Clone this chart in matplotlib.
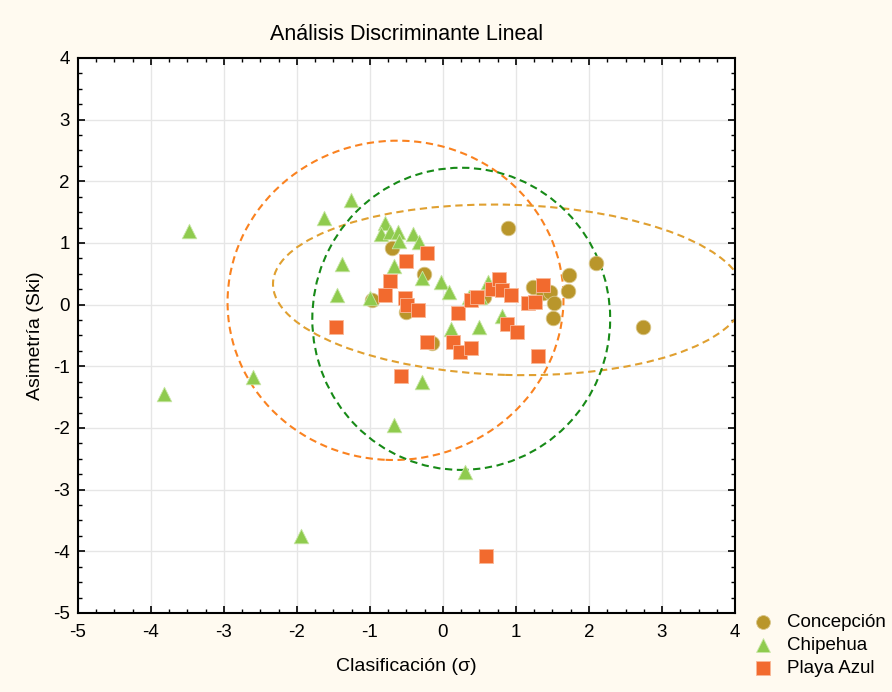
import matplotlib.pyplot as plt
from matplotlib.patches import Ellipse
from matplotlib.ticker import MultipleLocator

plt.rcParams['font.family'] = ['Liberation Sans', 'DejaVu Sans']
plt.rcParams['axes.unicode_minus'] = False

# Concepción
conc_x = [0.89, 2.10, 1.73, 1.71, 1.23, 1.37, 1.46, 1.52, 1.51, 2.74,
          -0.70, -0.26, -0.51, -0.15, -0.97, 0.56]
conc_y = [1.25, 0.67, 0.48, 0.22, 0.29, 0.19, 0.21, 0.03, -0.21, -0.37,
          0.92, 0.50, -0.12, -0.63, 0.08, 0.13]

# Chipehua
chip_x = [-3.48, -3.82, -2.60, -1.94, -1.63, -1.26, -1.38, -1.45, -1.00, -0.79,
          -0.85, -0.73, -0.62, -0.60, -0.41, -0.33, -0.67, -0.29, -0.03, 0.08,
          0.11, 0.50, -0.29, 0.62, 0.81, 0.51, 0.35, -0.67, 0.30]
chip_y = [1.19, -1.45, -1.18, -3.75, 1.41, 1.69, 0.66, 0.16, 0.10, 1.33,
          1.14, 1.18, 1.18, 1.04, 1.15, 1.02, 0.63, 0.44, 0.37, 0.21,
          -0.40, -0.36, -1.26, 0.37, -0.18, 0.13, 0.12, -1.95, -2.72]

# Playa Azul
playa_x = [-0.22, -0.51, -0.73, -0.79, -0.52, -0.49, -0.34, -1.47, 0.20, -0.22,
           0.14, 0.23, 0.38, -0.58, 0.39, 0.46, 0.67, 0.77, 0.81, 0.93,
           1.37, 1.16, 1.26, 0.88, 1.01, 1.30, 0.59]
playa_y = [0.84, 0.70, 0.39, 0.16, 0.10, 0.00, -0.08, -0.37, -0.13, -0.60,
           -0.60, -0.77, -0.70, -1.15, 0.08, 0.13, 0.26, 0.41, 0.23, 0.15,
           0.32, 0.02, 0.04, -0.32, -0.44, -0.84, -4.08]

# ellipses: center x, center y, semi-axis x, semi-axis y, angle
ell_cx = [0.90, -0.65, 0.25]
ell_cy = [0.24, 0.07, -0.23]
ell_ax = [3.23, 2.30, 2.04]
ell_ay = [1.38, 2.59, 2.45]
ell_ang = [-2, -3, 0]
ell_col = ['#E0A030', '#FA8220', '#178A17']

fig = plt.figure(figsize=(8.92, 6.92), dpi=100, facecolor='#FFFAF0')
ax = fig.add_axes([0.0874, 0.1142, 0.7366, 0.802])
ax.set_facecolor('white')

for cx, cy, a, b, ang, c in zip(ell_cx, ell_cy, ell_ax, ell_ay, ell_ang, ell_col):
    e = Ellipse((cx, cy), 2 * a, 2 * b, angle=ang, fill=False, edgecolor=c,
                linewidth=1.5, linestyle=(0, (3.5, 2.2)), zorder=2)
    ax.add_patch(e)

ax.scatter(conc_x, conc_y, s=110, marker='o', color='#B9962B',
           edgecolors='#D9C68A', linewidths=0.6, zorder=3, label='Concepción')
ax.scatter(chip_x, chip_y, s=110, marker='^', color='#8FCB4E',
           edgecolors='#C8E6A6', linewidths=0.6, zorder=4, label='Chipehua')
ax.scatter(playa_x, playa_y, s=100, marker='s', color='#F26A2E',
           edgecolors='#F9B898', linewidths=0.6, zorder=5, label='Playa Azul')

ax.set_xlim(-5, 4)
ax.set_ylim(-5, 4)
ax.xaxis.set_major_locator(MultipleLocator(1))
ax.yaxis.set_major_locator(MultipleLocator(1))
ax.xaxis.set_minor_locator(MultipleLocator(0.25))
ax.yaxis.set_minor_locator(MultipleLocator(0.25))
ax.tick_params(which='both', direction='in', top=True, right=True, labelsize=13.5)
ax.tick_params(which='major', length=5, width=1.2)
ax.tick_params(which='minor', length=3, width=1)
ax.tick_params(axis='x', pad=8)
ax.tick_params(axis='y', pad=6)
ax.grid(True, which='major', color='#E6E6E6', linewidth=1, zorder=0)
ax.set_axisbelow(True)
for sp in ax.spines.values():
    sp.set_linewidth(1.5)

ax.set_title('Análisis Discriminante Lineal', fontsize=15.5, pad=13)
ax.set_xlabel('Clasificación (σ)', fontsize=14, labelpad=12)
ax.set_ylabel('Asimetría (Ski)', fontsize=14, labelpad=6)

fig.legend(loc='upper left', bbox_to_anchor=(754 / 892, 1 - 614 / 692), frameon=False,
           fontsize=13.5, handlelength=1.0, handletextpad=0.75, labelspacing=0.32,
           borderpad=0, borderaxespad=0, markerscale=0.95)

fig.savefig('out.png', dpi=100, facecolor=fig.get_facecolor())
